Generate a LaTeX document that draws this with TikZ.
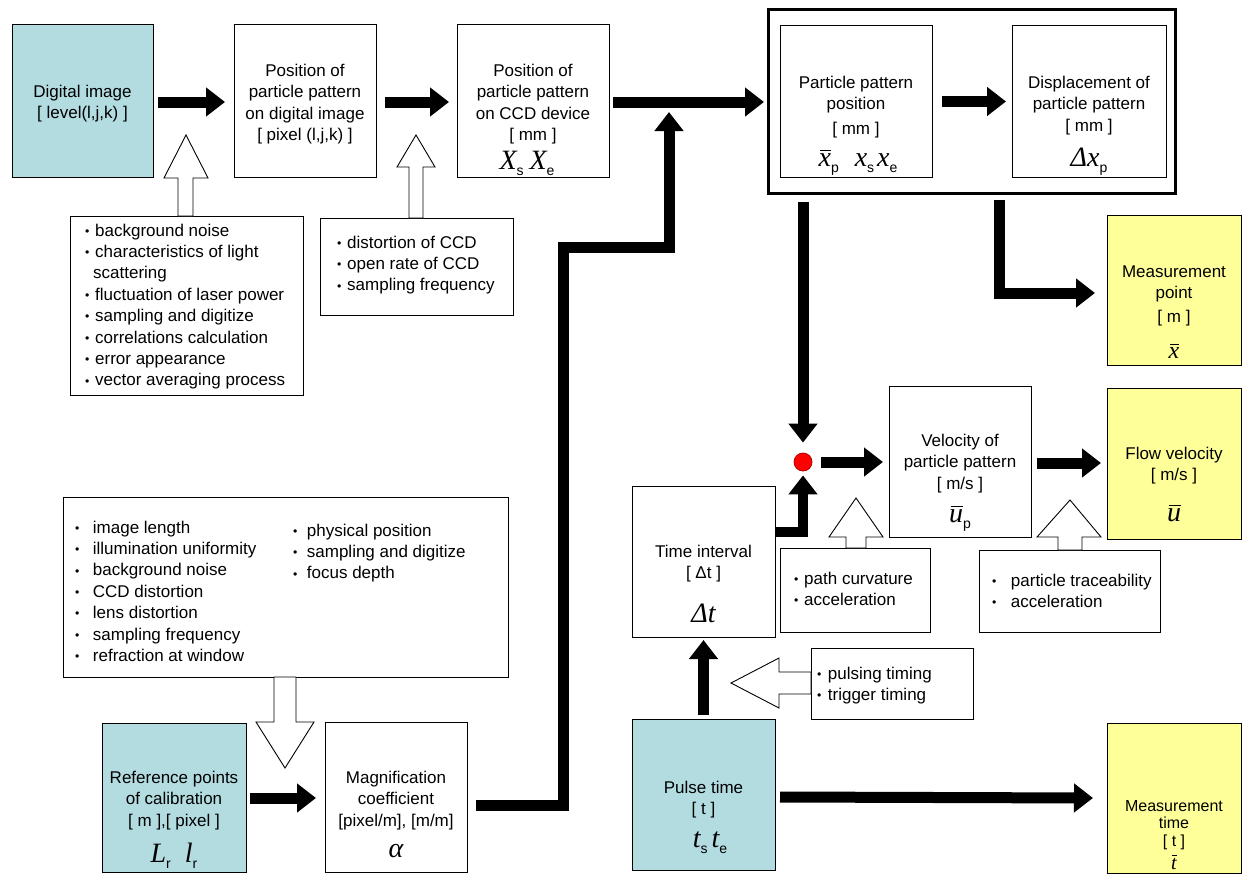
\documentclass[tikz,border=0pt]{standalone}
\usepackage{fontspec}
\setmainfont{Liberation Sans}
\newfontfamily\serf{Liberation Serif}
\usetikzlibrary{arrows.meta}
\definecolor{cyanbox}{RGB}{178,220,224}
\definecolor{yelbox}{RGB}{255,255,153}
\newcommand\bul[1][10pt]{\makebox[#1][l]{\raisebox{0.8pt}{\scalebox{0.72}{•}}}}
\newcommand\sbs[1]{\raisebox{-6pt}{\normalfont\fontsize{14}{14}\selectfont #1}}
\newcommand\ovr[2][1.5pt]{\leavevmode\setbox0=\hbox{#2}\rlap{\hspace{#1}\raisebox{\dimexpr\ht0+2pt\relax}{\rule{\dimexpr\wd0-#1\relax}{1.2pt}}}\box0}
\tikzset{
  bx/.style={draw=black, line width=1pt, inner sep=0pt, outer sep=0pt, fill=white},
  cy/.style={bx, fill=cyanbox},
  yl/.style={bx, fill=yelbox},
  txt/.style={inner sep=0pt, align=center, anchor=north, font=\fontsize{17}{21.5}\selectfont},
  lst/.style={inner sep=0pt, align=left, anchor=north west, font=\fontsize{17}{21.4}\selectfont},
  mth/.style={inner sep=0pt, anchor=base, font=\serf\itshape\fontsize{28}{28}\selectfont},
  bigarrow/.style={line width=11pt, line join=miter, -{Triangle[length=19pt,width=28pt]}},
  hollow/.style={draw=black, line width=0.9pt, fill=white, line join=miter}
}
\begin{document}
\begin{tikzpicture}[x=1pt,y=-1pt]
\useasboundingbox (0,0) rectangle (1247,875);
\fill[white] (0,0) rectangle (1247,875);

% boxes
\node[cy, minimum width=141pt, minimum height=152pt] (dig) at (82.5,101) {};
\node[bx, minimum width=142pt, minimum height=152pt] (posd) at (305,101) {};
\node[bx, minimum width=152pt, minimum height=152pt] (ccd) at (533,101) {};
\node[bx, line width=3pt, minimum width=407pt, minimum height=183pt] (big) at (971.5,101.5) {};
\node[bx, minimum width=152pt, minimum height=151pt] (ppp) at (856,101.5) {};
\node[bx, minimum width=154pt, minimum height=151pt] (disp) at (1089,101.5) {};
\node[bx, minimum width=233pt, minimum height=179pt] (lista) at (186.5,305.5) {};
\node[bx, minimum width=193pt, minimum height=97pt] (listb) at (416.5,266.5) {};
\node[yl, minimum width=134pt, minimum height=150pt] (meas) at (1174,290) {};
\node[bx, minimum width=142pt, minimum height=151pt] (vel) at (960,461.5) {};
\node[yl, minimum width=134pt, minimum height=151pt] (flow) at (1174,463.5) {};
\node[bx, minimum width=143pt, minimum height=151pt] (tint) at (703.5,561.5) {};
\node[bx, minimum width=150pt, minimum height=84pt] (pathc) at (855,590) {};
\node[bx, minimum width=181pt, minimum height=82pt] (trace) at (1069.5,591) {};
\node[bx, minimum width=162pt, minimum height=71pt] (puls) at (892,683.5) {};
\node[cy, minimum width=143pt, minimum height=151pt] (pulse) at (703.5,794.5) {};
\node[yl, minimum width=134pt, minimum height=150pt] (mtime) at (1174,798) {};
\node[bx, minimum width=445pt, minimum height=180pt] (listc) at (285.5,587) {};
\node[cy, minimum width=144pt, minimum height=149pt] (refp) at (174,797.5) {};
\node[bx, minimum width=142pt, minimum height=150pt] (mag) at (396,797) {};
\node[circle, fill=red, draw=red!70!black, line width=0.8pt, minimum size=18pt, inner sep=0pt] (dot) at (803,462) {};

% hollow arrows
\draw[hollow] (178,216) -- (178,178) -- (164,178) -- (186,135) -- (208,178) -- (193,178) -- (193,216) -- cycle;
\draw[hollow] (409,218) -- (409,167) -- (397,167) -- (416,135) -- (435,167) -- (423,167) -- (423,218) -- cycle;
\draw[hollow] (274,677) -- (274,722) -- (256,722) -- (285,768) -- (314,722) -- (296,722) -- (296,677) -- cycle;
\draw[hollow] (846,548) -- (846,537) -- (829,537) -- (856,498) -- (883,537) -- (866,537) -- (866,548) -- cycle;
\draw[hollow] (1058,550) -- (1058,537) -- (1037,537) -- (1070,500) -- (1101,537) -- (1082,537) -- (1082,550) -- cycle;
\draw[hollow] (811,672) -- (779,672) -- (779,658) -- (731,683) -- (779,708) -- (779,694) -- (811,694) -- cycle;

% thick arrows
\draw[bigarrow] ([xshift=5pt,yshift=-1pt]dig.east) -- ([xshift=-9pt,yshift=-1pt]posd.west);
\draw[bigarrow] ([xshift=9pt,yshift=-1pt]posd.east) -- ([xshift=-8pt,yshift=-1pt]ccd.west);
\draw[bigarrow] ([xshift=4pt,yshift=-1pt]ccd.east) -- ([xshift=-4pt,yshift=-0.5pt]big.west);
\draw[bigarrow] ([xshift=10pt]ppp.east) -- ([xshift=-6pt]disp.west);
\coordinate (j0) at (669,102);
\coordinate (j1) at (563,247);
\coordinate (j2) at (669,247);
\draw[bigarrow] ([xshift=9pt,yshift=-8pt]mag.east) -| (j1) -- (j2) -- ([yshift=-10pt]j0);
\coordinate (bsd) at (big.south -| dot);
\draw[bigarrow] ([yshift=-9pt]bsd) -- ([yshift=10pt]dot.north);
\coordinate (lst) at ([xshift=27.5pt,yshift=-7pt]big.south);
\draw[bigarrow] (lst) |- ([xshift=-12pt,yshift=-3pt]meas.west);
\draw[bigarrow] ([xshift=9pt]dot.east) -- ([xshift=-6pt,yshift=-0.5pt]vel.west);
\draw[bigarrow] ([xshift=6pt,yshift=-1.5pt]vel.east) -- ([xshift=-6pt,yshift=0.5pt]flow.west);
\draw[bigarrow, line width=10pt] ([yshift=30pt]tint.east) -| ([yshift=-4pt]dot.south);
\draw[bigarrow] ([yshift=4pt]pulse.north) -- ([yshift=-3pt]tint.south);
\draw[bigarrow] ([xshift=5pt,yshift=-2.5pt]pulse.east) -- ([xshift=-14pt]mtime.west);
\draw[bigarrow] ([xshift=4pt,yshift=-0.5pt]refp.east) -- ([xshift=-9pt,yshift=-1pt]mag.west);

% texts
\node[txt] (tdig) at (82.5,84.6) {Digital image\\{}[ level(l,j,k) ]};
\node[txt] (tposd) at (305,63.6) {Position of\\particle pattern\\on digital image\\{}[ pixel (l,j,k) ]};
\node[txt] (tccd) at (533,63.6) {Position of\\particle pattern\\on CCD device\\{}[ mm ]};
\node[mth] (mccd) at (527,169) {X\sbs{s}\hspace{6pt}X\sbs{e}};
\node[txt] (tppp) at (856,75.6) {Particle pattern\\position\\[3pt]{}[ mm ]};
\node[mth] (mppp) at (858,166) {\ovr{x}\sbs{p}\hspace{16pt}x\sbs{s}\hspace{3pt}x\sbs{e}};
\node[txt] (tdisp) at (1089,75.6) {Displacement of\\particle pattern\\{}[ mm ]};
\node[mth] (mdisp) at (1089,166) {Δx\sbs{p}};
\node[txt] (tmeas) at (1174,265.6) {Measurement\\point\\[2pt]{}[ m ]};
\node[mth, font=\serf\itshape\fontsize{24}{24}\selectfont] (mmeas) at (1174,358) {\ovr{x}};
\node[txt] (tvel) at (960,433.6) {Velocity of\\particle pattern\\{}[ m/s ]};
\node[mth] (mvel) at (960,522) {\ovr{u}\sbs{p}};
\node[txt] (tflow) at (1174,446.6) {Flow velocity\\{}[ m/s ]};
\node[mth] (mflow) at (1174,521) {\ovr{u}};
\node[txt] (ttint) at (703.5,544.6) {Time interval\\{}[ Δt ]};
\node[mth] (mtint) at (703.5,622) {Δt};
\node[txt] (tpulse) at (703.5,780.6) {Pulse time\\{}[ t ]};
\node[mth] (mpulse) at (710,847) {t\sbs{s}\hspace{4pt}t\sbs{e}};
\node[txt, font=\fontsize{16}{17.5}\selectfont] (tmtime) at (1174,800) {Measurement\\time\\{}[ t ]};
\node[mth, font=\serf\itshape\fontsize{20}{20}\selectfont] (mmtime) at (1174,869) {\ovr[1pt]{t}};
\node[txt] (trefp) at (174,770.6) {Reference points\\of calibration\\{}[ m ],[ pixel ]};
\node[mth] (mrefp) at (174,862) {L\sbs{r}\hspace{14pt}l\sbs{r}};
\node[txt] (tmag) at (396,770.6) {Magnification\\coefficient\\{}[pixel/m], [m/m]};
\node[mth] (mmag) at (396,857) {α};

% lists
\node[lst] (la) at (85,223.6) {\bul background noise\\\bul characteristics of light\\\hspace*{8pt}scattering\\\bul fluctuation of laser power\\\bul sampling and digitize\\\bul correlations calculation\\\bul error appearance\\\bul vector averaging process};
\node[lst] (lb) at (337,235.6) {\bul distortion of CCD\\\bul open rate of CCD\\\bul sampling frequency};
\node[lst] (lc1) at (75,520.6) {\bul[13pt] image length\\\bul[13pt] illumination uniformity\\\bul[13pt] background noise\\\bul[13pt] CCD distortion\\\bul[13pt] lens distortion\\\bul[13pt] sampling frequency\\\bul[13pt] refraction at window};
\node[lst] (lc2) at (293,523.6) {\bul[9pt] physical position\\\bul[9pt] sampling and digitize\\\bul[9pt] focus depth};
\node[lst] (lp) at (794,571.6) {\bul path curvature\\\bul acceleration};
\node[lst] (lt) at (992,573.6) {\bul[14pt] particle traceability\\\bul[14pt] acceleration};
\node[lst] (lpu) at (817,666.6) {\bul[6pt] pulsing timing\\\bul[6pt] trigger timing};
\end{tikzpicture}
\end{document}
